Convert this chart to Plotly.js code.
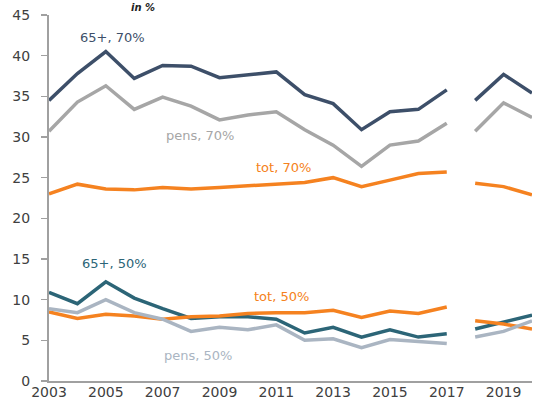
<!DOCTYPE html>
<html>
<head>
<meta charset="utf-8">
<script src="https://cdn.plot.ly/plotly-3.0.1.min.js"></script>
<style>html,body{margin:0;padding:0;background:#fff;}#chart{width:534px;height:403px;}</style>
</head>
<body>
<div id="chart"></div>
<script>
// Years before and after the series break
var yearsA = [2003,2004,2005,2006,2007,2008,2009,2010,2011,2012,2013,2014,2015,2016,2017];
var yearsB = [2018,2019,2020];

// Values (in %), first segment 2003-2017, second segment 2018-2020
var old70A  = [34.5,37.8,40.5,37.2,38.8,38.7,37.3,37.6,38.0,35.2,34.1,30.9,33.1,33.4,35.8];
var old70B  = [34.5,37.7,35.4];
var pens70A = [30.7,34.3,36.3,33.4,34.9,33.8,32.1,32.7,33.1,30.9,29.0,26.4,29.0,29.5,31.7];
var pens70B = [30.7,34.2,32.4];
var tot70A  = [23.0,24.2,23.6,23.5,23.8,23.6,23.8,24.0,24.3,24.4,25.0,23.9,24.7,25.5,25.7];
var tot70B  = [24.3,23.9,22.9];
var old50A  = [10.9,9.5,12.2,10.2,8.9,7.7,7.9,7.9,7.6,5.9,6.6,5.4,6.3,5.4,5.8];
var old50B  = [6.4,7.3,8.1];
var tot50A  = [8.5,7.7,8.2,8.0,7.6,7.9,8.0,8.3,8.4,8.4,8.7,7.8,8.6,8.3,9.1];
var tot50B  = [7.4,7.0,6.4];
var pens50A = [8.9,8.4,10.0,8.4,7.6,6.1,6.6,6.3,6.9,5.0,5.2,4.1,5.1,4.8,4.6];
var pens50B = [5.4,6.1,7.4];

var seriesNames = ["65+, 70%","pens, 70%","tot, 70%","65+, 50%","tot, 50%","pens, 50%"];
var seriesColors = ["#3d4f69","#a6a6a6","#f58220","#2c6577","#f58220","#aab5c2"];
var seriesA = [old70A,pens70A,tot70A,old50A,tot50A,pens50A];
var seriesB = [old70B,pens70B,tot70B,old50B,tot50B,pens50B];

// label positions (year, value)
var labelX = [2005.25,2008.3,2011.25,2005.3,2011.2,2008.25];
var labelY = [42.2,30.2,26.2,14.5,10.45,3.1];

var traces = [];
for (var i = 0; i < seriesNames.length; i++) {
  traces.push({x: yearsA, y: seriesA[i], type: 'scatter', mode: 'lines', name: seriesNames[i],
    line: {color: seriesColors[i], width: 3.5}, hoverinfo: 'x+y'});
  traces.push({x: yearsB, y: seriesB[i], type: 'scatter', mode: 'lines', name: seriesNames[i],
    line: {color: seriesColors[i], width: 3.5}, hoverinfo: 'x+y', showlegend: false});
}

var annotations = [];
for (var j = 0; j < seriesNames.length; j++) {
  annotations.push({x: labelX[j], y: labelY[j], xref: 'x', yref: 'y', text: seriesNames[j],
    showarrow: false, font: {family: 'DejaVu Sans, Verdana, sans-serif', size: 13, color: seriesColors[j]}});
}
annotations.push({x: 2006.3, y: 1, xref: 'x', yref: 'paper', yanchor: 'bottom', yshift: 0,
  text: '<b><i>in %</i></b>', showarrow: false,
  font: {family: 'DejaVu Sans, Verdana, sans-serif', size: 10, color: '#222'}});

var layout = {
  width: 534, height: 403,
  margin: {l: 49, r: 2, t: 15, b: 22},
  paper_bgcolor: '#fff', plot_bgcolor: '#fff',
  showlegend: false,
  xaxis: {range: [2003, 2020], tickmode: 'linear', tick0: 2003, dtick: 2,
    showgrid: false, zeroline: false, showline: true, linecolor: '#a0a0a0', linewidth: 2,
    ticks: '', ticklabelstandoff: -3,
    tickfont: {family: 'DejaVu Sans, Verdana, sans-serif', size: 14, color: '#404040'}},
  yaxis: {range: [0, 45], tickmode: 'linear', tick0: 0, dtick: 5,
    showgrid: false, zeroline: false, showline: true, linecolor: '#a0a0a0', linewidth: 2,
    ticks: 'outside', ticklen: 6, tickwidth: 1.5, tickcolor: '#a0a0a0', ticklabelstandoff: 8,
    tickfont: {family: 'DejaVu Sans, Verdana, sans-serif', size: 14, color: '#404040'}},
  annotations: annotations
};

Plotly.newPlot('chart', traces, layout, {displayModeBar: false, staticPlot: true});
</script>
</body>
</html>
